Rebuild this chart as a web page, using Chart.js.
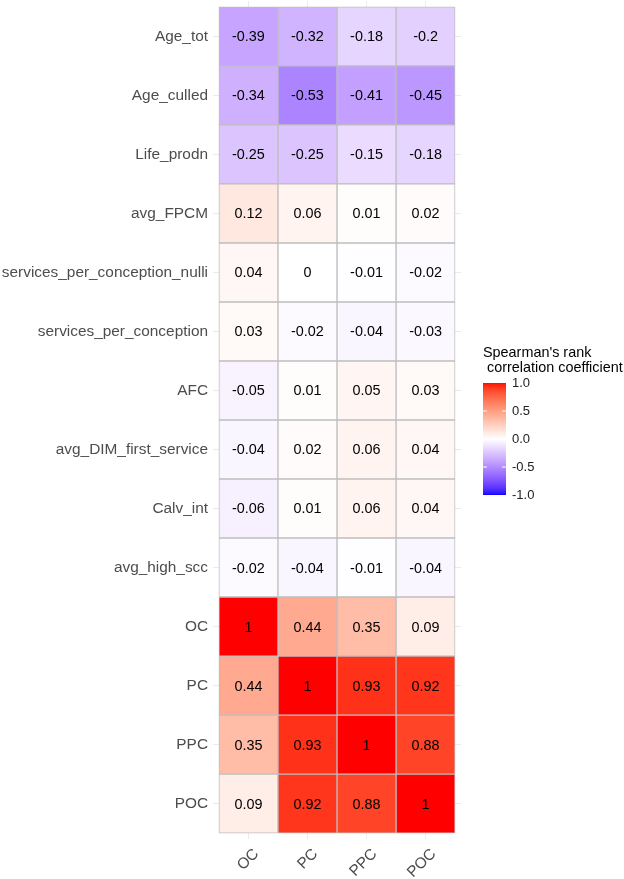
<!DOCTYPE html>
<html>
<head>
<meta charset="utf-8">
<script src="https://cdn.jsdelivr.net/npm/chart.js@4"></script>
<style>
  html, body { margin: 0; padding: 0; background: #fff; }
  #wrap { width: 624px; height: 879px; }
</style>
</head>
<body>
<div id="wrap"><canvas id="myChart" width="624" height="879"></canvas></div>
<script>
// rows top to bottom, columns left to right
var rows = ["Age_tot", "Age_culled", "Life_prodn", "avg_FPCM", "services_per_conception_nulli",
            "services_per_conception", "AFC", "avg_DIM_first_service", "Calv_int", "avg_high_scc",
            "OC", "PC", "PPC", "POC"]
var cols = ["OC", "PC", "PPC", "POC"]

var OC  = [-0.39, -0.34, -0.25, 0.12, 0.04, 0.03, -0.05, -0.04, -0.06, -0.02, 1, 0.44, 0.35, 0.09]
var PC  = [-0.32, -0.53, -0.25, 0.06, 0, -0.02, 0.01, 0.02, 0.01, -0.04, 0.44, 1, 0.93, 0.92]
var PPC = [-0.18, -0.41, -0.15, 0.01, -0.01, -0.04, 0.05, 0.06, 0.06, -0.01, 0.35, 0.93, 1, 0.88]
var POC = [-0.2, -0.45, -0.18, 0.02, -0.02, -0.03, 0.03, 0.04, 0.04, -0.04, 0.09, 0.92, 0.88, 1]

var legendTicks = [1.0, 0.5, 0.0, -0.5, -1.0]

var colValues = [OC, PC, PPC, POC]

// blue - white - red, mixed in Lab like ggplot's gradient2
var LAB_LOW = [32.30, 79.19, -107.86]
var LAB_MID = [100, 0, 0]
var LAB_HIGH = [53.24, 80.09, 67.20]

function lab2rgb(L, a, b) {
  var fy = (L + 16) / 116, fx = fy + a / 500, fz = fy - b / 200
  function finv(t) { return t * t * t > 0.008856 ? t * t * t : (t - 16 / 116) / 7.787 }
  var X = 0.95047 * finv(fx), Y = finv(fy), Z = 1.08883 * finv(fz)
  var r = 3.2406 * X - 1.5372 * Y - 0.4986 * Z
  var g = -0.9689 * X + 1.8758 * Y + 0.0415 * Z
  var bb = 0.0557 * X - 0.2040 * Y + 1.0570 * Z
  function gam(c) {
    c = c > 0.0031308 ? 1.055 * Math.pow(c, 1 / 2.4) - 0.055 : 12.92 * c
    return Math.round(Math.max(0, Math.min(1, c)) * 255)
  }
  return "rgb(" + gam(r) + "," + gam(g) + "," + gam(bb) + ")"
}

function colorFor(v) {
  var end = v < 0 ? LAB_LOW : LAB_HIGH
  var t = Math.min(1, Math.abs(v))
  return lab2rgb(LAB_MID[0] + (end[0] - LAB_MID[0]) * t,
                 LAB_MID[1] + (end[1] - LAB_MID[1]) * t,
                 LAB_MID[2] + (end[2] - LAB_MID[2]) * t)
}

var FONT = "'Liberation Sans', Arial, sans-serif"

var datasets = colValues.map(function (vals, j) {
  return {
    label: cols[j],
    data: rows.map(function (r, i) { return { y: i, x: [j, j + 1], v: vals[i] } }),
    backgroundColor: vals.map(colorFor),
    borderColor: "#bebebe",
    borderWidth: 1,
    borderSkipped: false,
    barPercentage: 1,
    categoryPercentage: 1,
    grouped: false
  }
})

var cellLabels = {
  id: "cellLabels",
  afterDatasetsDraw: function (chart) {
    var ctx = chart.ctx
    ctx.save()
    ctx.font = "14.4px " + FONT
    ctx.fillStyle = "#000"
    ctx.textAlign = "center"
    ctx.textBaseline = "middle"
    chart.data.datasets.forEach(function (ds, j) {
      chart.getDatasetMeta(j).data.forEach(function (el, i) {
        var cx = (el.x + el.base) / 2
        ctx.fillText(String(ds.data[i].v), cx, el.y + 1)
      })
    })
    ctx.restore()
  }
}

var colorBar = {
  id: "colorBar",
  afterDraw: function (chart) {
    var ctx = chart.ctx
    var x0 = 483, w = 23, top = 383, bottom = 495
    ctx.save()
    ctx.fillStyle = "#000"
    ctx.font = "14.4px " + FONT
    ctx.textBaseline = "middle"
    ctx.textAlign = "left"
    ctx.fillText("Spearman's rank", x0, 353)
    ctx.fillText(" correlation coefficient", x0, 368)
    for (var y = top; y < bottom; y++) {
      var v = 1 - 2 * (y + 0.5 - top) / (bottom - top)
      ctx.fillStyle = colorFor(v)
      ctx.fillRect(x0, y, w, 1)
    }
    ctx.font = "13px " + FONT
    ctx.fillStyle = "#222"
    legendTicks.forEach(function (t) {
      var y = top + (1 - t) / 2 * (bottom - top)
      if (t < 1 && t > -1) {
        ctx.strokeStyle = "#fff"
        ctx.lineWidth = 1
        ctx.beginPath()
        ctx.moveTo(x0, y); ctx.lineTo(x0 + 4, y)
        ctx.moveTo(x0 + w - 4, y); ctx.lineTo(x0 + w, y)
        ctx.stroke()
      }
      ctx.fillText(t.toFixed(1), x0 + 29, y)
    })
    ctx.restore()
  }
}

new Chart(document.getElementById("myChart").getContext("2d"), {
  type: "bar",
  data: { datasets: datasets },
  options: {
    indexAxis: "y",
    responsive: false,
    animation: false,
    layout: { padding: { left: 0, right: 163, top: 1, bottom: 0 } },
    plugins: { legend: { display: false }, tooltip: { enabled: false } },
    scales: {
      x: {
        type: "linear",
        min: -0.1,
        max: 4.1,
        offset: false,
        afterBuildTicks: function (scale) {
          scale.ticks = cols.map(function (c, j) { return { value: j + 0.5 } })
        },
        afterFit: function (scale) {
          scale.height = 40
          scale.paddingLeft = 0
          scale.paddingRight = 0
        },
        grid: { color: "#ebebeb", drawTicks: false, offset: false },
        border: { display: false },
        ticks: {
          autoSkip: false,
          minRotation: 45,
          maxRotation: 45,
          padding: 6,
          labelOffset: 8,
          color: "#4d4d4d",
          font: { family: FONT, size: 15.4 },
          callback: function (v) { return cols[Math.round(v - 0.5)] }
        }
      },
      y: {
        type: "linear",
        reverse: true,
        min: -0.6,
        max: 13.6,
        offset: false,
        afterBuildTicks: function (scale) {
          scale.ticks = rows.map(function (r, i) { return { value: i } })
        },
        afterFit: function (scale) {
          scale.width = 213
          scale.paddingTop = 0
          scale.paddingBottom = 0
        },
        grid: { color: "#ebebeb", drawTicks: false, offset: false },
        border: { display: false },
        ticks: {
          autoSkip: false,
          padding: 5,
          color: "#4d4d4d",
          font: { family: FONT, size: 15.4 },
          callback: function (v) { return rows[Math.round(v)] }
        }
      }
    }
  },
  plugins: [cellLabels, colorBar]
})
</script>
</body>
</html>
